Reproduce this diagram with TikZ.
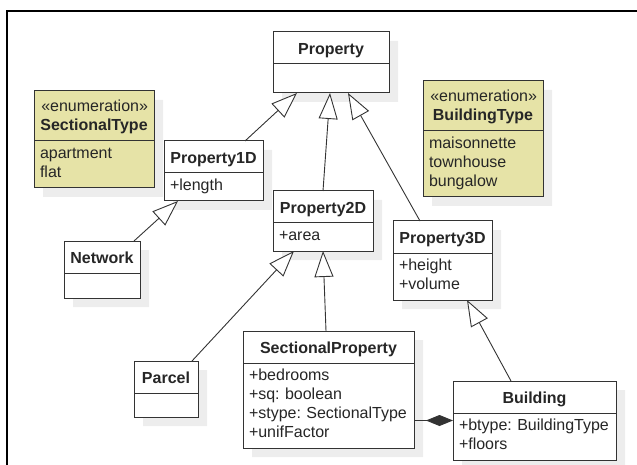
\documentclass[tikz,border=0pt]{standalone}
\usepackage{fontspec}
\setmainfont{Liberation Sans}
\usetikzlibrary{shapes.multipart,shadows,arrows.meta}
\definecolor{enumfill}{HTML}{E6E3A7}
\frenchspacing
\hyphenpenalty=10000
\newcommand\hd[1]{\hspace*{\fill}\textbf{#1}\rule[-5pt]{0pt}{23pt}\hspace*{\fill}}
\newcommand\en[1]{\hspace*{\fill}\rule{0pt}{16pt}«enumeration»\hspace*{\fill}\\
  \hspace*{\fill}\textbf{#1}\rule[-6pt]{0pt}{6pt}\hspace*{\fill}}
\begin{document}
\begin{tikzpicture}[x=1pt, y=-1pt,
  class/.style = {rectangle split, rectangle split parts=2, draw=black!80, fill=white,
    line width=1pt, text width=#1, inner xsep=6pt, inner ysep=4pt, outer sep=0pt,
    anchor=north west, align=left, text=black!85, font=\fontsize{16}{19}\selectfont,
    drop shadow={shadow xshift=9pt, shadow yshift=-9pt, fill=black!7, draw=none, opacity=1}},
  enum/.style = {class=#1, fill=enumfill},
  isa/.style = {draw=black!80, line width=0.9pt, -{Triangle[length=26pt, width=19pt, fill=white]}},
  compose/.style = {draw=black!80, line width=0.9pt, -{Diamond[length=27pt, width=11pt]}}]
  \useasboundingbox (0,0) rectangle (637,465);
  \draw[line width=2pt] (7,465) -- (7,11) -- (637,11);
  \node[class=104pt] (prop) at (273,32) {\hd{Property} \nodepart{second} \rule{0pt}{20pt}};
  \node[enum=108pt] (sectype) at (34,91) {\en{SectionalType}
    \nodepart{second} \strut apartment\\flat\strut};
  \node[class=87pt] (p1d) at (164,141) {\hd{Property1D} \nodepart{second} \strut+length\strut};
  \node[class=88pt] (p2d) at (273,191) {\hd{Property2D} \nodepart{second} \strut+area\strut};
  \node[enum=108pt] (bldtype) at (423,81) {\en{BuildingType}
    \nodepart{second} \strut maisonnette\\townhouse\\bungalow\strut};
  \node[class=87pt] (p3d) at (393,221) {\hd{Property3D}
    \nodepart{second} \strut+height\\+volume\strut};
  \node[class=64pt] (net) at (64,241) {\hd{Network} \nodepart{second} \rule{0pt}{16pt}};
  \node[class=52pt] (parcel) at (134,361) {\hd{Parcel} \nodepart{second} \rule{0pt}{15pt}};
  \node[class=159pt] (secprop) at (243,331) {\hd{SectionalProperty}
    \nodepart{second} \strut+bedrooms\\+sq: boolean\\+stype: SectionalType\\+unifFactor\strut};
  \node[class=151pt] (bld) at (453,381) {\hd{Building}
    \nodepart{second} \strut+btype: BuildingType\\+floors\strut};
  \draw[isa] ([xshift=31.5pt]p1d.north) -- ([xshift=-34pt]prop.south);
  \draw[isa] ([xshift=32pt]net.north) -- ([xshift=-35.5pt]p1d.south);
  \draw[isa] (p2d.north) -- ([xshift=-1pt]prop.south);
  \draw[isa] ([xshift=-22.5pt]p3d.north) -- ([xshift=17pt]prop.south);
  \draw[isa] ([xshift=26pt]parcel.north) -- ([xshift=-29pt]p2d.south);
  \draw[isa] ([xshift=-2.5pt]secprop.north) -- (p2d.south);
  \draw[isa] ([xshift=-23.5pt]bld.north) -- ([xshift=24.5pt]p3d.south);
  \draw[compose] (secprop.east |- bld.west) -- (bld.west);
\end{tikzpicture}
\end{document}
